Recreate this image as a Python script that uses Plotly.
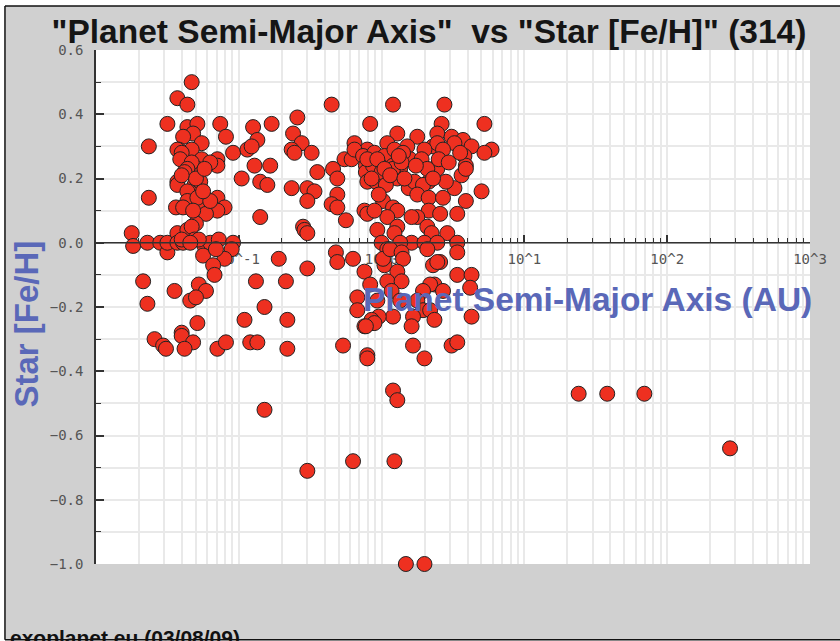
import plotly.graph_objects as go

# log10 of semi-major axis (AU) and star metallicity
log_a_left = [-1.33, -1.43, -1.36, -1.50, -1.63, -1.36, -1.29, -1.32, -1.39, -1.26, -1.13, -1.09, -1.04,
              -1.33, -1.42, -1.43, -1.40, -1.26, -1.41, -1.29, -1.15, -1.15, -1.20, -1.33, -1.36, -0.94,
              -1.43, -0.98, -1.43, -1.31, -1.27, -1.36, -1.63, -1.36, -1.27, -1.15, -1.29, -1.44, -1.39,
              -1.10, -1.15, -1.23, -1.20,
              -1.75, -1.74, -1.64, -1.55, -1.50, -1.50, -1.43, -1.43, -1.36, -1.30, -1.33, -1.31, -1.39,
              -1.24, -1.20, -1.14, -1.04, -1.05, -1.10, -1.25, -1.18,
              -1.67, -1.64, -1.45, -1.28, -1.23, -1.34, -1.30, -1.17, -1.29, -0.96, -1.59, -1.53, -1.51,
              -1.40, -1.40, -1.32, -1.38, -1.15, -1.09,
              -1.38, -1.30, -1.24, -1.40, -1.25, -1.32, -1.40, -1.28, -1.34, -1.16]
feh_left = [0.50, 0.45, 0.43, 0.37, 0.30, 0.36, 0.37, 0.34, 0.33, 0.31, 0.37, 0.33, 0.28,
            0.29, 0.29, 0.29, 0.28, 0.26, 0.26, 0.23, 0.26, 0.24, 0.25, 0.25, 0.23, 0.29,
            0.19, 0.20, 0.18, 0.18, 0.19, 0.16, 0.14, 0.13, 0.12, 0.14, 0.14, 0.11, 0.11,
            0.11, 0.10, 0.09, 0.13,
            0.03, -0.01, 0.00, 0.00, -0.03, 0.00, 0.03, 0.00, 0.04, 0.06, 0.05, 0.01, 0.00,
            -0.01, 0.00, 0.01, 0.00, -0.02, -0.05, -0.04, -0.07,
            -0.12, -0.19, -0.15, -0.13, -0.15, -0.18, -0.17, -0.10, -0.25, -0.24, -0.30, -0.32, -0.33,
            -0.28, -0.29, -0.31, -0.33, -0.33, -0.31,
            0.22, 0.20, 0.23, 0.21, 0.16, 0.10, 0.01, 0.01, 0.00, -0.02]

log_a_mid = [-0.35, -0.59, -0.90, -0.77, -0.62, -0.56, -0.87, -0.91, -0.63, -0.61, -0.49, -0.78, -0.89,
             -0.45, -0.85, -0.80, -0.63, -0.52, -0.47, -0.52, -0.85, -0.55, -0.54, -0.52, -0.34, -0.31,
             -0.31, -0.35, -0.31, -0.25, -0.19, -0.26, -0.21, -0.12, -0.10, -0.10, -0.19, -0.13, -0.11,
             -0.11, -0.10,
             -0.72, -0.52, -0.32, -0.31, -0.20, -0.88, -0.67, -0.82, -0.12, -0.66, -0.17, -0.17, -0.92,
             -0.87, -0.66, -0.27, -0.12, -0.10, -0.10, -0.06]
feh_mid = [0.43, 0.39, 0.36, 0.37, 0.34, 0.31, 0.32, 0.30, 0.29, 0.28, 0.28, 0.24, 0.24,
           0.22, 0.19, 0.18, 0.17, 0.17, 0.16, 0.13, 0.08, 0.05, 0.04, 0.03, 0.23, 0.20,
           0.15, 0.12, 0.11, 0.07, 0.31, 0.26, 0.26, 0.10, 0.09, 0.29, 0.29, 0.27, 0.24,
           0.22, 0.19,
           -0.05, -0.08, -0.03, -0.06, -0.05, -0.12, -0.12, -0.20, -0.09, -0.24, -0.17, -0.21, -0.31,
           -0.31, -0.33, -0.32, -0.26, -0.35, -0.36, -0.25]

log_a_right = [0.08, 0.44, -0.08, 0.42, 0.72, 0.11, 0.39, 0.49, 0.04, 0.25, 0.57, 0.18, 0.36, 0.39, 0.51,
               0.63, 0.77, 0.72, -0.05, 0.02, 0.09, 0.30, 0.43, 0.58, 0.20, 0.28, 0.59, 0.08, 0.39, 0.15,
               -0.01, -0.06, 0.13,
               -0.04, 0.00, 0.11, 0.08, 0.19, 0.23, 0.33, 0.29, 0.25, 0.33, 0.43, 0.51, 0.45, 0.59, 0.70,
               0.56, 0.59, 0.39, 0.32, 0.01, 0.08, 0.11, 0.04, 0.33, 0.41, 0.53, 0.25, 0.21, -0.03, 0.11,
               0.09, 0.32, 0.35, 0.46, 0.53, 0.21, 0.30, 0.39, 0.00, 0.13, 0.04, -0.05,
               0.02, 0.01, 0.06, 0.14, 0.15, 0.11, 0.04, 0.14, -0.08, 0.07, -0.03, 0.13, 0.32, 0.41, 0.36,
               0.39, 0.53, 0.53, 0.63, 0.62, 0.37, 0.34, 0.29, 0.43, 0.25, 0.29, 0.34, 0.37, 0.63, 0.22,
               0.21, 0.08, -0.02, -0.07, -0.05, -0.11, 0.22, 0.30, 0.49, 0.53,
               -0.10, -0.03, 0.02, -0.07, 0.03, 0.06, 0.14, 0.16, -0.02, 0.36, 0.40, 0.47, 0.55, 0.24, 0.12]
feh_right = [0.43, 0.43, 0.37, 0.37, 0.37, 0.34, 0.34, 0.33, 0.31, 0.33, 0.32, 0.30, 0.30, 0.31, 0.31,
             0.30, 0.29, 0.28, 0.28, 0.27, 0.29, 0.29, 0.29, 0.27, 0.26, 0.26, 0.24, 0.24, 0.24, 0.28,
             0.24, 0.24, 0.23,
             0.19, 0.22, 0.20, 0.23, 0.17, 0.19, 0.19, 0.18, 0.15, 0.14, 0.14, 0.17, 0.19, 0.13, 0.16,
             0.21, 0.23, 0.23, 0.23, 0.13, 0.11, 0.10, 0.08, 0.10, 0.09, 0.09, 0.08, 0.08, 0.04, 0.05,
             0.03, 0.05, 0.03, 0.03, 0.00, 0.00, 0.00, 0.00, 0.00, 0.00, -0.02, 0.10,
             -0.07, -0.05, -0.02, -0.03, -0.05, -0.09, -0.12, -0.12, -0.13, -0.15, -0.18, -0.18, -0.02, -0.06, -0.07,
             -0.06, -0.03, -0.10, -0.10, -0.14, -0.13, -0.13, -0.15, -0.15, -0.18, -0.21, -0.21, -0.24, -0.23, -0.23,
             -0.26, -0.23, -0.23, -0.24, -0.25, -0.26, -0.32, -0.36, -0.32, -0.31,
             0.26, 0.26, 0.23, 0.20, 0.18, 0.21, 0.25, 0.20, 0.15, 0.20, 0.26, 0.25, 0.28, 0.24, 0.27]

log_a_outliers = [0.08, 0.11, -0.82, -0.52, -0.20, 0.09, 0.17, 0.30, 1.38, 1.58, 1.84, 2.44]
feh_outliers = [-0.46, -0.49, -0.52, -0.71, -0.68, -0.68, -1.00, -1.00, -0.47, -0.47, -0.47, -0.64]

x_tick_vals = [0.1, 1, 10, 100, 1000]
x_tick_text = ["10^-1", "10^0", "10^1", "10^2", "10^3"]
y_tick_vals = [0.6, 0.4, 0.2, 0.0, -0.2, -0.4, -0.6, -0.8, -1.0]
y_tick_text = ["0.6", "0.4", "0.2", "0.0", "\u22120.2", "\u22120.4", "\u22120.6", "\u22120.8", "\u22121.0"]
y_minor_vals = [0.5, 0.3, 0.1, -0.1, -0.3, -0.5, -0.7, -0.9]
x_minor_vals = [m * 10 ** e for e in range(-2, 3) for m in range(2, 10)]

GRID = "#e9e9e9"
AXIS = "#333333"
TITLE_BLUE = "#5a68b8"

log_a = log_a_left + log_a_mid + log_a_right + log_a_outliers
feh = feh_left + feh_mid + feh_right + feh_outliers

fig = go.Figure(go.Scatter(
    x=[10 ** v for v in log_a],
    y=feh,
    mode="markers",
    cliponaxis=False,
    marker=dict(size=15, color="#ee3020", line=dict(color="#222222", width=1)),
))

fig.update_xaxes(
    type="log", range=[-2, 3], anchor="free", position=0.625,
    tickmode="array", tickvals=x_tick_vals, ticktext=x_tick_text,
    ticks="inside", ticklen=8, tickcolor=AXIS, tickwidth=1.5,
    ticklabelstandoff=6, layer="below traces",
    showline=False, zeroline=False, showgrid=True, gridcolor=GRID, gridwidth=1.5,
    minor=dict(tickmode="array", tickvals=x_minor_vals, ticks="inside", ticklen=5,
               tickcolor=AXIS, tickwidth=1, showgrid=True, gridcolor=GRID, gridwidth=1.5),
    tickfont=dict(family="DejaVu Sans Mono", size=14, color="#555555"),
)
fig.update_yaxes(
    range=[-1.0, 0.6],
    tickmode="array", tickvals=y_tick_vals, ticktext=y_tick_text,
    ticks="inside", ticklen=8, tickcolor=AXIS, tickwidth=1.5,
    ticklabelstandoff=8,
    showline=True, linecolor=AXIS, linewidth=1.5, zeroline=False,
    showgrid=True, gridcolor=GRID, gridwidth=1.5,
    minor=dict(tickmode="array", tickvals=y_minor_vals, ticks="inside", ticklen=5,
               tickcolor=AXIS, tickwidth=1, showgrid=True, gridcolor=GRID, gridwidth=1.5),
    tickfont=dict(family="DejaVu Sans Mono", size=14, color="#555555"),
)

fig.update_layout(
    width=840, height=641,
    margin=dict(l=96, r=30, t=50, b=77),
    paper_bgcolor="#d0d0d0", plot_bgcolor="white",
    showlegend=False,
    title=dict(
        text='"Planet Semi-Major Axis"\u00a0 vs "Star [Fe/H]" (314)',
        x=429 / 840, xref="container", xanchor="center",
        y=1 - 31 / 641, yref="container", yanchor="middle",
        font=dict(family="Liberation Sans", size=33.5, color="#151515", weight="bold"),
    ),
)

# axis titles sit inside the plot area in the original
fig.add_annotation(text="Planet Semi-Major Axis (AU)", xref="paper", yref="paper",
                   x=1.005, y=0.515, xanchor="right", yanchor="middle", showarrow=False,
                   font=dict(family="Liberation Sans", size=33.5, color=TITLE_BLUE, weight="bold"))
fig.add_annotation(text="Star [Fe/H]", xref="paper", yref="paper", textangle=-90,
                   x=-0.098, y=0.466, xanchor="center", yanchor="middle", showarrow=False,
                   font=dict(family="Liberation Sans", size=33, color=TITLE_BLUE, weight="bold"))
fig.add_annotation(text="exoplanet.eu (03/08/09)", xref="paper", yref="paper",
                   x=-0.1235, y=-0.1165, xanchor="left", yanchor="top", showarrow=False,
                   font=dict(family="Liberation Sans", size=21, color="#111111", weight="bold"))

# y=0 line runs over the markers, white page edge and black frame around the gray panel
fig.add_shape(type="line", xref="paper", yref="y", x0=0, x1=1, y0=0, y1=0,
              line=dict(color=AXIS, width=1.5))
for x0, x1, y0, y1 in [(-0.135, -0.1275, -0.2, 1.2), (-0.135, 1.05, 1.0856, 1.2), (-0.135, 1.05, -0.2, -0.1475)]:
    fig.add_shape(type="rect", xref="paper", yref="paper", x0=x0, x1=x1, y0=y0, y1=y1,
                  fillcolor="white", line_width=0)
fig.add_shape(type="line", xref="paper", yref="paper", x0=-0.1275, x1=-0.1275, y0=-0.1475, y1=1.0856,
              line=dict(color="#111111", width=1.5))
fig.add_shape(type="line", xref="paper", yref="paper", x0=-0.1275, x1=1.05, y0=1.0856, y1=1.0856,
              line=dict(color="#111111", width=1.5))
fig.add_shape(type="line", xref="paper", yref="paper", x0=-0.1275, x1=1.05, y0=-0.1475, y1=-0.1475,
              line=dict(color="#111111", width=1.5))

fig.write_html("out.html", config={"displayModeBar": False},
               post_script="document.body.style.margin='0';")
